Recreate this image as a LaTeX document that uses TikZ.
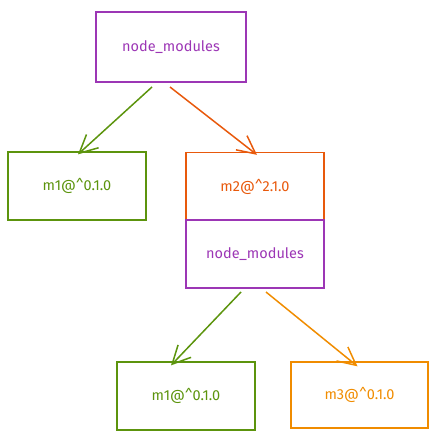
\documentclass[tikz,border=0pt]{standalone}
\usepackage{fontspec}
\setmainfont{Fira Sans}
\usetikzlibrary{arrows.meta}
\definecolor{cpurple}{HTML}{9C36B5}
\definecolor{cgreen}{HTML}{5C940D}
\definecolor{cred}{HTML}{E8590C}
\definecolor{corange}{HTML}{F08C00}
\tikzset{
  x=1pt, y=-1pt,
  box/.style={draw=#1, text=#1, line width=1.3pt, minimum width=138pt, minimum height=68pt, inner sep=0pt, font=\fontsize{14.5}{16}\selectfont},
  conn/.style={draw=#1, line width=1.5pt, -{Straight Barb[length=18pt,width=18pt,line width=1.5pt]}}
}
\begin{document}
\begin{tikzpicture}
\useasboundingbox (0,0) rectangle (440,444);
\node[box=cpurple, minimum width=150pt, minimum height=70pt] (top) at (171,47) {node\_modules};
\node[box=cgreen] (m1a) at (77,186) {m1@\^{}0.1.0};
\node[box=cred] (m2) at (255,186.5) {m2@\^{}2.1.0};
\node[box=cpurple] (nm2) at (255,254) {node\_modules};
\node[box=cgreen] (m1b) at (186,396) {m1@\^{}0.1.0};
\node[box=corange, minimum width=137pt, minimum height=66pt] (m3) at (359.5,395) {m3@\^{}0.1.0};
\coordinate (a1s) at (152,87);
\coordinate (a2s) at (170,87);
\coordinate (a3s) at (241,292);
\coordinate (a4s) at (266,292);
\draw[conn=cgreen] (a1s) -- ([xshift=1pt,yshift=-3pt]m1a.north);
\draw[conn=cred] (a2s) -- ([xshift=2pt,yshift=-3pt]m2.north);
\draw[conn=cgreen] (a3s) -- ([xshift=-15pt,yshift=-4pt]m1b.north);
\draw[conn=corange] (a4s) -- ([xshift=-2pt,yshift=-5pt]m3.north);
\end{tikzpicture}
\end{document}
